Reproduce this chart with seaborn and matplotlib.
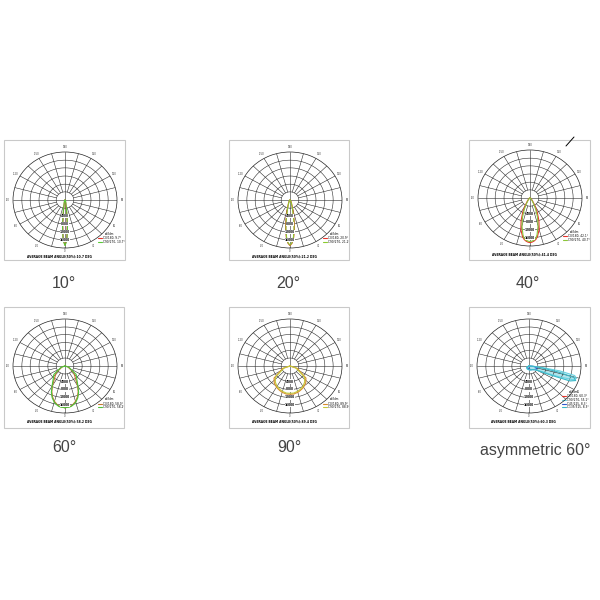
import numpy as np
import matplotlib
matplotlib.use("Agg")
import matplotlib.pyplot as plt
from matplotlib.patches import Rectangle
from matplotlib.lines import Line2D
import seaborn as sns

sns.set_style("white")
plt.rcParams['font.family'] = ['DejaVu Sans']

# gamma angles (deg, 0 = straight down) and relative intensities per beam
ANGLES = [-90, -70, -50, -40, -30, -25, -20, -15, -10, -7.5, -5, -2.5, 0,
          2.5, 5, 7.5, 10, 15, 20, 25, 30, 40, 50, 70, 90]

b10_c0 = [0, 0, 0.005, 0.01, 0.015, 0.02, 0.03, 0.05, 0.1, 0.22, 0.5, 0.82, 0.94,
          0.82, 0.5, 0.22, 0.1, 0.05, 0.03, 0.02, 0.015, 0.01, 0.005, 0, 0]
b10_c90 = [0, 0, 0.005, 0.01, 0.015, 0.02, 0.03, 0.06, 0.12, 0.27, 0.55, 0.84, 0.95,
           0.84, 0.55, 0.27, 0.12, 0.06, 0.03, 0.02, 0.015, 0.01, 0.005, 0, 0]
b20_c0 = [0, 0.005, 0.01, 0.02, 0.04, 0.06, 0.1, 0.22, 0.47, 0.64, 0.79, 0.9, 0.95,
          0.9, 0.79, 0.64, 0.47, 0.22, 0.1, 0.06, 0.04, 0.02, 0.01, 0.005, 0]
b20_c90 = [0, 0.005, 0.01, 0.02, 0.03, 0.05, 0.08, 0.18, 0.42, 0.6, 0.77, 0.89, 0.94,
           0.89, 0.77, 0.6, 0.42, 0.18, 0.08, 0.05, 0.03, 0.02, 0.01, 0.005, 0]
b40_c0 = [0, 0.01, 0.03, 0.07, 0.2, 0.33, 0.5, 0.68, 0.82, 0.87, 0.9, 0.92, 0.93,
          0.92, 0.9, 0.87, 0.82, 0.68, 0.5, 0.33, 0.2, 0.07, 0.03, 0.01, 0]
b40_c90 = [0, 0.01, 0.02, 0.05, 0.14, 0.26, 0.42, 0.6, 0.78, 0.85, 0.88, 0.9, 0.91,
           0.9, 0.88, 0.85, 0.78, 0.6, 0.42, 0.26, 0.14, 0.05, 0.02, 0.01, 0]
b60_c0 = [0, 0.06, 0.22, 0.3, 0.48, 0.6, 0.7, 0.78, 0.84, 0.86, 0.87, 0.88, 0.89,
          0.88, 0.87, 0.86, 0.84, 0.78, 0.7, 0.6, 0.48, 0.3, 0.22, 0.06, 0]
b60_c90 = [0, 0.08, 0.28, 0.35, 0.5, 0.62, 0.72, 0.8, 0.85, 0.87, 0.88, 0.88, 0.89,
           0.88, 0.88, 0.87, 0.85, 0.8, 0.72, 0.62, 0.5, 0.35, 0.28, 0.08, 0]
b90_c0 = [0, 0.15, 0.4, 0.47, 0.52, 0.54, 0.56, 0.58, 0.59, 0.6, 0.6, 0.6, 0.6,
          0.6, 0.6, 0.6, 0.59, 0.58, 0.56, 0.54, 0.52, 0.47, 0.4, 0.15, 0]
b90_c90 = [0, 0.12, 0.36, 0.44, 0.5, 0.52, 0.54, 0.56, 0.57, 0.58, 0.58, 0.58, 0.58,
           0.58, 0.58, 0.58, 0.57, 0.56, 0.54, 0.52, 0.5, 0.44, 0.36, 0.12, 0]

ASYM_ANGLES = [-90, -60, -30, 0, 20, 40, 50, 55, 60, 65, 68, 71, 74, 77, 80, 83, 86, 90]
asym_c0 = [0, 0.05, 0.07, 0.08, 0.09, 0.1, 0.12, 0.14, 0.18, 0.3, 0.6, 0.9, 0.95, 0.9, 0.6, 0.25, 0.08, 0]
asym_c90 = [0, 0.05, 0.07, 0.08, 0.09, 0.1, 0.12, 0.14, 0.2, 0.45, 0.85, 0.95, 0.9, 0.6, 0.3, 0.12, 0.05, 0]
asym_c180 = [0, 0.03, 0.05, 0.06, 0.08, 0.1, 0.12, 0.13, 0.14, 0.15, 0.16, 0.16, 0.15, 0.14, 0.12, 0.1, 0.06, 0]

TITLES = ["10°", "20°", "40°", "60°", "90°", "asymmetric 60°"]
CAPTIONS = ["AVERAGE BEAM ANGLE(50%):10.7 DEG", "AVERAGE BEAM ANGLE(50%):21.2 DEG",
            "AVERAGE BEAM ANGLE(50%):41.4 DEG", "AVERAGE BEAM ANGLE(50%):58.2 DEG",
            "AVERAGE BEAM ANGLE(50%):89.4 DEG", "AVERAGE BEAM ANGLE(50%):60.3 DEG"]
LEGENDS = [["C0/180, 9.7°", "C90/270, 10.7°"], ["C0/180, 20.9°", "C90/270, 21.2°"],
           ["C0/180, 42.1°", "C90/270, 40.7°"], ["C0/180, 58.0°", "C90/270, 58.2°"],
           ["C0/180, 89.9°", "C90/270, 88.9°"],
           ["C0/180, 60.3°", "C90/270, 55.1°", "C45/225, 8.3°", "C135/315, 8.3°"]]
RING_LABELS = ["4000", "8000", "12000", "16000"]
ANGLE_TICKS = [0, 30, 60, 90, 120, 150, 180, -150, -120, -90, -60, -30]

panels = [
    (ANGLES, [b10_c0, b10_c90], ["#e8342b", "#58c936"]),
    (ANGLES, [b20_c0, b20_c90], ["#e8342b", "#8acb2e"]),
    (ANGLES, [b40_c0, b40_c90], ["#e8342b", "#8cc63a"]),
    (ANGLES, [b60_c0, b60_c90], ["#c8772e", "#4cc23a"]),
    (ANGLES, [b90_c0, b90_c90], ["#d98a2b", "#c3c83a"]),
    (ASYM_ANGLES, [asym_c180, asym_c0, asym_c90], ["#2f58d0", "#6ad3e2", "#3bb8c8"]),
]
legend_colors = [["#e8342b", "#58c936"], ["#e8342b", "#8acb2e"], ["#e8342b", "#8cc63a"],
                 ["#c8772e", "#4cc23a"], ["#d98a2b", "#c3c83a"],
                 ["#e8342b", "#6ad3e2", "#2f58d0", "#3bb8c8"]]

# layout in pixels (figure 600x600): box rect and circle rect (left, top, w, h)
boxes = [(4, 140, 121, 120), (229, 140, 120, 120), (469, 140, 121, 120),
         (4, 307, 120, 121), (229, 307, 120, 121), (469, 307, 121, 121)]
circles = [(13, 152, 104, 96), (238, 152, 104, 96), (478, 150, 104, 96),
           (13, 319, 104, 94), (238, 319, 104, 94), (477, 319, 104, 94)]
title_pos = [(64, 283), (288, 283), (528, 283), (64, 448), (289, 448), (535, 450)]

W = H = 600.0
fig = plt.figure(figsize=(6, 6), dpi=100)
fig.patch.set_facecolor("white")

R_IN = 0.17
RINGS = [0.17, 0.33, 0.5, 0.67, 0.83]
tt = np.linspace(0, 2 * np.pi, 240)
title_font = ["Liberation Sans Narrow", "Liberation Sans", "DejaVu Sans"]

for i in range(6):
    bx, by, bw, bh = boxes[i]
    fig.patches.append(Rectangle((bx / W, 1 - (by + bh) / H), bw / W, bh / H,
                                 transform=fig.transFigure, fill=False,
                                 edgecolor="#c9c9c9", lw=0.8))
    cx, cy, cw, ch = circles[i]
    ax = fig.add_axes([cx / W, 1 - (cy + ch) / H, cw / W, ch / H], projection="polar")
    ax.set_theta_zero_location("S")
    ax.set_aspect("auto")
    ax.set_ylim(0, 1)
    ax.set_xticks([])
    ax.set_yticks([])
    ax.grid(False)
    ax.spines["polar"].set_color("#222222")
    ax.spines["polar"].set_linewidth(0.5)
    ax.set_facecolor("white")

    for r in RINGS:
        ax.plot(tt, np.full_like(tt, r), color="#2a2a2a", lw=0.4)
    for a in range(0, 360, 15):
        th = np.deg2rad(a)
        r0 = 0 if a % 90 == 0 else R_IN
        ax.plot([th, th], [r0, 1], color="#2a2a2a", lw=0.4)

    for a in ANGLE_TICKS:
        rr = 1.06 if a == 0 else 1.1
        ax.text(np.deg2rad(a), rr, str(a), fontsize=1.8, ha="center", va="center",
                color="#333333", clip_on=False)
    for r, lab in zip(RINGS[1:], RING_LABELS):
        ax.text(0, r, lab, fontsize=2.1, fontweight="bold", ha="center", va="center",
                color="black", bbox=dict(boxstyle="square,pad=0.1", fc="white", ec="none"))

    angles, series, colors = panels[i]
    theta = np.deg2rad(angles)
    for vals, col in zip(series, colors):
        if i == 5 and col != "#2f58d0":
            ax.fill(theta, vals, color=col, alpha=0.25, lw=0)
        sns.lineplot(x=theta, y=np.array(vals), ax=ax, sort=False, color=col, lw=0.8,
                     estimator=None)
    ax.set_xlabel("")
    ax.set_ylabel("")

    # caption and legend
    ax.text(0.45, -0.09, CAPTIONS[i], transform=ax.transAxes, fontsize=2.2,
            fontweight="bold", ha="center", va="center", color="black", clip_on=False)
    n = len(LEGENDS[i])
    step = 0.038
    top = 0.1 + (n - 2) * step
    ax.text(0.93, top + 0.05, "cd/klm", transform=ax.transAxes, fontsize=2.1,
            ha="center", va="center", color="black", clip_on=False)
    for k, lab in enumerate(LEGENDS[i]):
        yy = top - k * step
        ax.add_line(Line2D([0.82, 0.86], [yy, yy], transform=ax.transAxes,
                           color=legend_colors[i][k], lw=0.8, clip_on=False))
        ax.text(0.87, yy, lab, transform=ax.transAxes, fontsize=2.1,
                ha="left", va="center", color="black", clip_on=False)

    tx, ty = title_pos[i]
    fig.text(tx / W, 1 - ty / H, TITLES[i], fontsize=11.5, ha="center", va="center",
             color="#444444", family=title_font)

# small stray stroke above the third panel
fig.add_artist(Line2D([566 / W, 574 / W], [1 - 146 / H, 1 - 137 / H],
                      transform=fig.transFigure, color="black", lw=0.7))

fig.savefig("out.png", dpi=100)
